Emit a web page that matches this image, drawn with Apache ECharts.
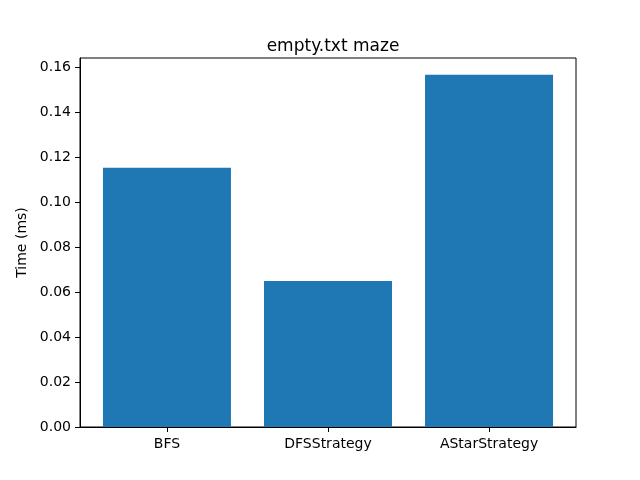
<!DOCTYPE html>
<html>
<head>
<meta charset="utf-8">
<script src="https://cdn.jsdelivr.net/npm/echarts@6/dist/echarts.min.js"></script>
<style>
  html, body { margin: 0; padding: 0; background: #fff; }
  #chart { width: 640px; height: 480px; }
</style>
</head>
<body>
<div id="chart"></div>
<script>
var categories = ['BFS', 'DFSStrategy', 'AStarStrategy'];
var times = [0.1152, 0.0649, 0.1566];
var yTicks = [0, 0.02, 0.04, 0.06, 0.08, 0.10, 0.12, 0.14, 0.16];

var font = 'DejaVu Sans';
var barData = [];
for (var i = 0; i < categories.length; i++) {
  barData.push([i, times[i]]);
}

var myChart = echarts.init(document.getElementById('chart'));
myChart.setOption({
  animation: false,
  title: {
    text: 'empty.txt maze',
    left: 328,
    top: 33,
    textAlign: 'center',
    textStyle: { fontFamily: font, fontSize: 17, fontWeight: 'normal', color: '#000' }
  },
  grid: {
    left: 80,
    right: 64,
    top: 58,
    bottom: 53,
    show: true,
    borderColor: '#000',
    borderWidth: 1,
    backgroundColor: 'transparent'
  },
  xAxis: {
    type: 'value',
    min: -0.54,
    max: 2.54,
    splitLine: { show: false },
    axisLine: { show: true, onZero: false, lineStyle: { color: '#000', width: 1 } },
    axisTick: { show: true, length: 5, inside: false, customValues: [0, 1, 2], lineStyle: { color: '#000' } },
    axisLabel: {
      customValues: [0, 1, 2],
      margin: 10,
      fontFamily: font,
      fontSize: 14,
      color: '#000',
      formatter: function (v) { return categories[Math.round(v)]; }
    }
  },
  yAxis: {
    type: 'value',
    min: 0,
    max: 0.164,
    name: 'Time (ms)',
    nameLocation: 'middle',
    nameGap: 47,
    nameTextStyle: { fontFamily: font, fontSize: 14, color: '#000' },
    splitLine: { show: false },
    axisLine: { show: true, onZero: false, lineStyle: { color: '#000', width: 1 } },
    axisTick: { show: true, length: 5, customValues: yTicks, lineStyle: { color: '#000' } },
    axisLabel: {
      customValues: yTicks,
      margin: 9,
      fontFamily: font,
      fontSize: 14,
      color: '#000',
      formatter: function (v) { return v.toFixed(2); }
    }
  },
  series: [{
    type: 'bar',
    data: barData,
    barWidth: 128,
    itemStyle: { color: '#1f77b4' }
  }]
});
</script>
</body>
</html>
